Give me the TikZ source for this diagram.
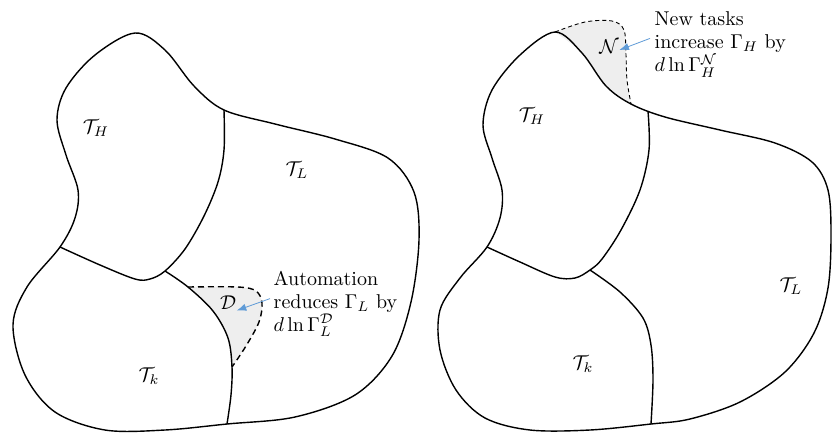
\documentclass[tikz,border=0pt]{standalone}
\usepackage{amsmath,amssymb}
\usepackage{xcolor}
\usepackage{tikz}
\usetikzlibrary{arrows.meta,positioning}
\definecolor{ptrc}{RGB}{95,155,215}
\definecolor{cutc}{RGB}{238,238,238}

\begin{document}
\begin{tikzpicture}[x=0.5pt,y=-0.5pt,>=Latex,line width=0.7pt,line join=round,font=\fontsize{10}{11.5}\selectfont]
\tikzstyle{bd}=[smooth,tension=0.55]
\tikzstyle{lab}=[inner sep=0pt]
\tikzstyle{txt}=[inner sep=0pt,anchor=north west,align=left]
\tikzstyle{ptr}=[->,ptrc,line width=0.4pt]
\useasboundingbox (0,0) rectangle (832,435);
% left panel: automation
\fill[cutc] plot[bd] coordinates {(188,287) (238,287) (256,291) (262,303) (259,322) (246,346) (232,367)}
  -- plot[bd] coordinates {(232,367) (228,338) (213,311) (188,287)} -- cycle;
\draw plot[smooth cycle,tension=0.55] coordinates {(135,33) (165,50) (194,86) (224,110) (275,124) (335,139) (388,158) (414,192) (419,240) (411,302) (392,356) (355,395) (295,417) (227,424) (165,430) (105,430) (55,412) (25,375) (13,325) (27,287) (60,247) (75,218) (78,190) (66,155) (57,120) (66,88) (95,55)};
\draw plot[bd] coordinates {(224,110) (224,150) (218,182) (204,216) (185,249) (165,271) (150,279) (135,279) (100,265) (60,247)};
\draw plot[bd] coordinates {(165,271) (188,287) (213,311) (228,338) (232,367) (231,395) (227,424)};
\draw[dash pattern=on 3pt off 2pt] plot[bd] coordinates {(188,287) (238,287) (256,291) (262,303) (259,322) (246,346) (232,367)};
\node[lab] (aH) at (96,128) {$\mathcal{T}_H$};
\node[lab] (aL) at (297,170) {$\mathcal{T}_L$};
\node[lab] (ak) at (149,376) {$\mathcal{T}_k$};
\node[lab] (dD) at (228,303) {$\mathcal{D}$};
\node[txt] (autoTxt) at (273,270) {Automation\\reduces $\Gamma_L$ by\\$d\ln\Gamma_L^{\mathcal{D}}$};
\draw[ptr] ([shift={(-3,-5)}]autoTxt.west) -- (dD.south east);
% right panel: new tasks
\fill[cutc] plot[bd] coordinates {(555,32) (585,22) (612,21) (624,30) (626,55) (627,80) (631,104)}
  -- plot[bd] coordinates {(631,104) (606,86) (582,53) (555,32)} -- cycle;
\draw plot[smooth cycle,tension=0.55] coordinates {(555,32) (582,53) (606,86) (631,104) (665,117) (720,130) (775,143) (812,162) (828,190) (831,235) (828,288) (814,333) (785,372) (740,402) (690,419) (651,424) (590,430) (530,430) (485,418) (456,390) (440,350) (440,310) (460,278) (487,247) (500,218) (502,190) (492,158) (483,125) (492,90) (520,55)};
\draw plot[bd] coordinates {(648,111) (649,150) (640,190) (621,230) (602,259) (590,270) (575,278) (555,277) (520,262) (487,247)};
\draw plot[bd] coordinates {(590,270) (620,292) (643,318) (651,345) (653,380) (651,424)};
\draw[line width=0.45pt,dash pattern=on 2pt off 1.5pt] plot[bd] coordinates {(555,32) (585,22) (612,21) (624,30) (626,55) (627,80) (631,104)};
\node[lab] (bH) at (532,116) {$\mathcal{T}_H$};
\node[lab] (bL) at (791,286) {$\mathcal{T}_L$};
\node[lab] (bk) at (583,364) {$\mathcal{T}_k$};
\node[lab] (nN) at (609,47) {$\mathcal{N}$};
\node[txt] (newTxt) at (654,11) {New tasks\\increase $\Gamma_H$ by\\$d\ln\Gamma_H^{\mathcal{N}}$};
\draw[ptr] ([shift={(-4,-6)}]newTxt.west) -- ([yshift=-1.5pt]nN.east);
\end{tikzpicture}
\end{document}
